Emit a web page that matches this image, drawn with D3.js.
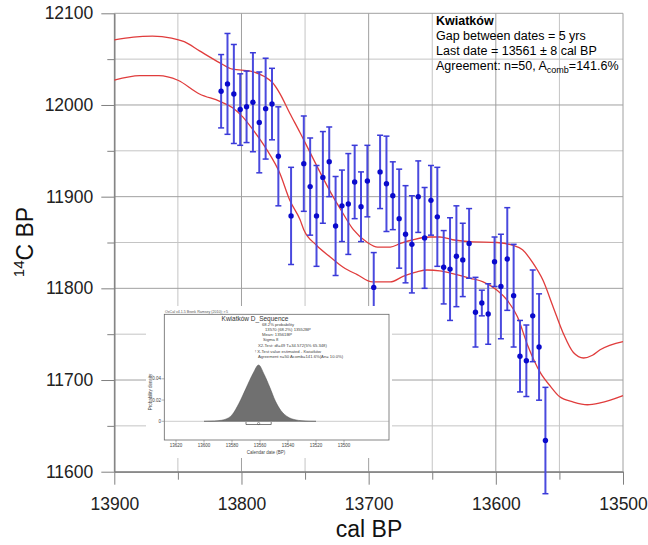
<!DOCTYPE html>
<html>
<head>
<meta charset="utf-8">
<script src="https://cdn.jsdelivr.net/npm/d3@7"></script>
<style>
body { margin: 0; background: #fff; }
svg { display: block; font-family: "Liberation Sans", Arial, sans-serif; }
</style>
</head>
<body>
<svg id="chart" width="648" height="545"></svg>
<script>
// dates of the sequence (cal BP), 14C ages and 1 sigma errors
var calDates = [13816, 13811, 13806, 13801, 13796, 13791, 13786, 13781, 13776, 13771,
                13761, 13751, 13746, 13741, 13736, 13731, 13726, 13721, 13716, 13711,
                13706, 13701, 13696, 13691, 13686, 13681, 13676, 13671, 13666, 13661,
                13656, 13651, 13646, 13641, 13636, 13631, 13626, 13621, 13616, 13611,
                13606, 13601, 13596, 13591, 13586, 13581, 13576, 13571, 13566, 13561];
var c14Ages = [12015, 12023, 12012, 11995, 11998, 12003, 11981, 11996, 12001, 11944,
               11879, 11936, 11911, 11879, 11921, 11938, 11868, 11890, 11892, 11916,
               11889, 11917, 11801, 11927, 11914, 11901, 11876, 11859, 11848, 11900,
               11855, 11896, 11878, 11823, 11821, 11835, 11831, 11849, 11774, 11784,
               11772, 11829, 11802, 11832, 11792, 11726, 11721, 11770, 11736, 11634];
var c14Errors = [40, 55, 54, 39, 39, 54, 55, 55, 39, 54,
                 53, 52, 53, 55, 50, 38, 54, 39, 55, 40,
                 38, 39, 38, 40, 52, 37, 54, 53, 53, 39,
                 55, 38, 54, 40, 56, 55, 40, 38, 38, 14,
                 33, 27, 57, 56, 56, 39, 39, 50, 58, 58];

// calibration curve, upper and lower 1 sigma edge
var upperCal = [13900, 13885, 13870, 13855, 13845, 13833, 13817, 13807, 13793, 13782, 13776, 13770,
                13762, 13754, 13746, 13738, 13728, 13722, 13712, 13701, 13693, 13683, 13675, 13665,
                13652, 13644, 13634, 13620, 13599, 13587, 13579, 13571, 13563, 13555, 13547, 13539,
                13531, 13524, 13518, 13500];
var upperC14 = [12071, 12074, 12075, 12073, 12069, 12059, 12046, 12039, 12037, 12031, 12025, 12013,
                11991, 11970, 11948, 11926, 11900, 11886, 11864, 11850, 11845, 11845, 11849, 11853,
                11856, 11856, 11853, 11851, 11850, 11847, 11842, 11828, 11809, 11780, 11751, 11730,
                11724, 11727, 11733, 11742];
var lowerCal = [13900, 13880, 13865, 13850, 13833, 13817, 13807, 13799, 13791, 13780, 13770, 13762,
                13754, 13751, 13741, 13730, 13720, 13709, 13697, 13683, 13673, 13662, 13654, 13644,
                13634, 13620, 13610, 13599, 13591, 13583, 13575, 13565, 13557, 13550, 13539, 13528,
                13518, 13500];
var lowerC14 = [12027, 12032, 12032, 12027, 12012, 12004, 11997, 11987, 11973, 11951, 11926, 11896,
                11875, 11864, 11847, 11834, 11823, 11815, 11807, 11807, 11813, 11818, 11820, 11819,
                11816, 11811, 11807, 11798, 11787, 11769, 11738, 11708, 11693, 11682, 11676, 11673,
                11675, 11683];

var xMajorTicks = [13900, 13800, 13700, 13600, 13500];
var xMinorTicks = [13850, 13750, 13650, 13550];
var yMajorTicks = [11600, 11700, 11800, 11900, 12000, 12100];
var yMinorTicks = [11650, 11750, 11850, 11950, 12050];

var infoLines = ["Gap between dates = 5 yrs", "Last date = 13561 \u00b1 8 cal BP"];

// inset: modelled last date
var insetCal = [13600, 13595, 13590, 13585, 13580, 13575, 13570, 13565, 13561, 13557,
                13553, 13549, 13545, 13540, 13535, 13530, 13525, 13520];
var insetDensity = [0, 0.0002, 0.0006, 0.0018, 0.006, 0.017, 0.031, 0.045, 0.053, 0.044,
                    0.032, 0.019, 0.010, 0.004, 0.0015, 0.0005, 0.0001, 0];
var insetXTicks = [13620, 13600, 13580, 13560, 13540, 13520, 13500];
var insetYTicks = [0, 0.02, 0.04];
var insetText = ["68.2% probability", "13570 (68.2%) 13552BP", "Mean: 13561BP", "Sigma 8",
                 "X2-Test: df=49 T=34.572(5% 65.348)", "! X-Test value estimated - Kwiatk\u00f3w",
                 "Agreement n=50 Acomb=141.6%(An= 10.0%)"];

var svg = d3.select('#chart');

var x = d3.scaleLinear().domain([13900, 13500]).range([114.3, 623]);
var y = d3.scaleLinear().domain([11600, 12100]).range([471.7, 13.3]);

// grid
var grid = svg.append('g');
grid.selectAll('line.vmin').data(xMinorTicks).enter().append('line')
    .attr('x1', function(d) { return x(d); }).attr('x2', function(d) { return x(d); })
    .attr('y1', y(12100)).attr('y2', y(11600))
    .attr('stroke', '#c4c4c4').attr('stroke-width', 1);
grid.selectAll('line.hmin').data(yMinorTicks).enter().append('line')
    .attr('y1', function(d) { return y(d); }).attr('y2', function(d) { return y(d); })
    .attr('x1', x(13900)).attr('x2', x(13500))
    .attr('stroke', '#c4c4c4').attr('stroke-width', 1);
grid.selectAll('line.vmaj').data(xMajorTicks).enter().append('line')
    .attr('x1', function(d) { return x(d); }).attr('x2', function(d) { return x(d); })
    .attr('y1', y(12100)).attr('y2', y(11600))
    .attr('stroke', '#a0a0a0').attr('stroke-width', 1);
grid.selectAll('line.hmaj').data(yMajorTicks).enter().append('line')
    .attr('y1', function(d) { return y(d); }).attr('y2', function(d) { return y(d); })
    .attr('x1', x(13900)).attr('x2', x(13500))
    .attr('stroke', '#a0a0a0').attr('stroke-width', 1);

// axes
function styleAxis(g) {
  g.selectAll('path, line').attr('stroke', '#808080');
  g.selectAll('text').attr('fill', '#222').style('font-size', '17.5px')
   .style('font-family', '"Liberation Sans", Arial, sans-serif');
}
svg.append('g').attr('transform', 'translate(0,' + y(11600) + ')')
   .call(d3.axisBottom(x).tickValues(xMinorTicks).tickSize(8).tickSizeOuter(0).tickFormat(''))
   .call(styleAxis);
svg.append('g').attr('transform', 'translate(0,' + y(11600) + ')')
   .call(d3.axisBottom(x).tickValues(xMajorTicks).tickSize(13).tickSizeOuter(0).tickPadding(13).tickFormat(d3.format('d')))
   .call(styleAxis);
svg.append('g').attr('transform', 'translate(' + x(13900) + ',0)')
   .call(d3.axisLeft(y).tickValues(yMinorTicks).tickSize(7).tickSizeOuter(0).tickFormat(''))
   .call(styleAxis);
svg.append('g').attr('transform', 'translate(' + x(13900) + ',0)')
   .call(d3.axisLeft(y).tickValues(yMajorTicks).tickSize(13).tickSizeOuter(0).tickPadding(8).tickFormat(d3.format('d')))
   .call(styleAxis);

// axis titles
svg.append('text').attr('x', 369).attr('y', 537).attr('text-anchor', 'middle')
   .style('font-size', '23px').attr('fill', '#111').text('cal BP');
var yl = svg.append('text').attr('transform', 'translate(33,242) rotate(-90)')
   .attr('text-anchor', 'middle').style('font-size', '23px').attr('fill', '#111');
yl.append('tspan').attr('dy', -9).style('font-size', '15px').text('14');
yl.append('tspan').attr('dy', 9).text('C BP');

// calibration curve
var line = d3.line().curve(d3.curveMonotoneX);
svg.append('path')
   .attr('d', line(upperCal.map(function(d, i) { return [x(d), y(upperC14[i])]; })))
   .attr('fill', 'none').attr('stroke', '#e03c3c').attr('stroke-width', 1.3);
svg.append('path')
   .attr('d', line(lowerCal.map(function(d, i) { return [x(d), y(lowerC14[i])]; })))
   .attr('fill', 'none').attr('stroke', '#e03c3c').attr('stroke-width', 1.3);

// error bars and points
var pts = svg.append('g');
var bars = pts.selectAll('g.bar').data(calDates).enter().append('g');
bars.append('line')
    .attr('x1', function(d) { return x(d); }).attr('x2', function(d) { return x(d); })
    .attr('y1', function(d, i) { return y(c14Ages[i] + c14Errors[i]); })
    .attr('y2', function(d, i) { return y(c14Ages[i] - c14Errors[i]); })
    .attr('stroke', '#4a4ade').attr('stroke-width', 2);
bars.append('line')
    .attr('x1', function(d) { return x(d) - 3; }).attr('x2', function(d) { return x(d) + 3; })
    .attr('y1', function(d, i) { return y(c14Ages[i] + c14Errors[i]); })
    .attr('y2', function(d, i) { return y(c14Ages[i] + c14Errors[i]); })
    .attr('stroke', '#3a3ad8').attr('stroke-width', 1.5);
bars.append('line')
    .attr('x1', function(d) { return x(d) - 3; }).attr('x2', function(d) { return x(d) + 3; })
    .attr('y1', function(d, i) { return y(c14Ages[i] - c14Errors[i]); })
    .attr('y2', function(d, i) { return y(c14Ages[i] - c14Errors[i]); })
    .attr('stroke', '#3a3ad8').attr('stroke-width', 1.5);
bars.append('circle')
    .attr('cx', function(d) { return x(d); })
    .attr('cy', function(d, i) { return y(c14Ages[i]); })
    .attr('r', 2.7).attr('fill', '#0a0acc');

// info text
var info = svg.append('g').attr('fill', '#000').style('font-size', '12.5px');
info.append('text').attr('x', 436).attr('y', 25).style('font-weight', 'bold').text('Kwiatk\u00f3w');
info.selectAll('text.l').data(infoLines).enter().append('text')
    .attr('x', 436).attr('y', function(d, i) { return 40 + i * 15; }).text(function(d) { return d; });
var ag = info.append('text').attr('x', 436).attr('y', 70);
ag.append('tspan').text('Agreement: n=50, A');
ag.append('tspan').attr('dy', 3).style('font-size', '9px').text('comb');
ag.append('tspan').attr('dy', -3).text('=141.6%');

// inset
var inset = svg.append('g');
inset.append('rect').attr('x', 146).attr('y', 306).attr('width', 246).attr('height', 152).attr('fill', '#fff');
var ix = d3.scaleLinear().domain([13620, 13500]).range([176, 344]);
var iy = d3.scaleLinear().domain([0, 0.04]).range([421.3, 378.8]);
inset.append('rect').attr('x', 164.3).attr('y', 314.3).attr('width', 224.7).attr('height', 125.7)
     .attr('fill', 'none').attr('stroke', '#666').attr('stroke-width', 0.8);
inset.append('text').attr('x', 165).attr('y', 312.5).style('font-size', '3.6px').attr('fill', '#555')
     .text('OxCal v4.1.5 Bronk Ramsey (2010); r:5');
inset.append('line').attr('x1', 164.3).attr('x2', 389).attr('y1', iy(0)).attr('y2', iy(0))
     .attr('stroke', '#999').attr('stroke-width', 0.5);
inset.append('path')
     .attr('d', d3.area().curve(d3.curveMonotoneX)
        .x(function(d) { return ix(d); })
        .y0(iy(0))
        .y1(function(d, i) { return iy(insetDensity[i]); })(insetCal.slice().reverse().map(function(d) { return d; }).reverse()))
     .attr('fill', '#707070').attr('stroke', '#505050').attr('stroke-width', 0.5);
// 68.2% range
inset.append('line').attr('x1', ix(13570)).attr('x2', ix(13552)).attr('y1', 424.5).attr('y2', 424.5)
     .attr('stroke', '#444').attr('stroke-width', 0.7);
inset.selectAll('line.rng').data([13570, 13552]).enter().append('line')
     .attr('x1', function(d) { return ix(d); }).attr('x2', function(d) { return ix(d); })
     .attr('y1', 422).attr('y2', 424.5).attr('stroke', '#444').attr('stroke-width', 0.7);
inset.append('circle').attr('cx', ix(13561)).attr('cy', 423.5).attr('r', 1.1)
     .attr('fill', 'none').attr('stroke', '#444').attr('stroke-width', 0.5);
// inset axes
inset.selectAll('line.ixt').data(insetXTicks).enter().append('line')
     .attr('x1', function(d) { return ix(d); }).attr('x2', function(d) { return ix(d); })
     .attr('y1', 440).attr('y2', 442.5).attr('stroke', '#666').attr('stroke-width', 0.5);
inset.selectAll('text.ixt').data(insetXTicks).enter().append('text')
     .attr('x', function(d) { return ix(d); }).attr('y', 447).attr('text-anchor', 'middle')
     .style('font-size', '4.5px').attr('fill', '#444').text(function(d) { return d; });
inset.selectAll('line.iyt').data(insetYTicks).enter().append('line')
     .attr('x1', 161.5).attr('x2', 164.3)
     .attr('y1', function(d) { return iy(d); }).attr('y2', function(d) { return iy(d); })
     .attr('stroke', '#666').attr('stroke-width', 0.5);
inset.selectAll('text.iyt').data(insetYTicks).enter().append('text')
     .attr('x', 161).attr('y', function(d) { return iy(d) + 1.5; }).attr('text-anchor', 'end')
     .style('font-size', '4.5px').attr('fill', '#444').text(function(d) { return d; });
inset.append('text').attr('x', 266).attr('y', 454).attr('text-anchor', 'middle')
     .style('font-size', '4.5px').attr('fill', '#444').text('Calendar date (BP)');
inset.append('text').attr('transform', 'translate(152,392) rotate(-90)').attr('text-anchor', 'middle')
     .style('font-size', '4.5px').attr('fill', '#444').text('Probability density');
inset.append('text').attr('x', 255).attr('y', 320.5).attr('text-anchor', 'middle')
     .style('font-size', '6.5px').attr('fill', '#333').text('Kwiatk\u00f3w D_Sequence');
inset.selectAll('text.info').data(insetText).enter().append('text')
     .attr('x', function(d, i) { return [262, 265, 262, 263, 258, 255, 258][i]; })
     .attr('y', function(d, i) { return [326, 331, 336, 341, 346.5, 352.5, 358][i]; })
     .style('font-size', '4.2px').attr('fill', '#444').text(function(d) { return d; });
</script>
</body>
</html>
